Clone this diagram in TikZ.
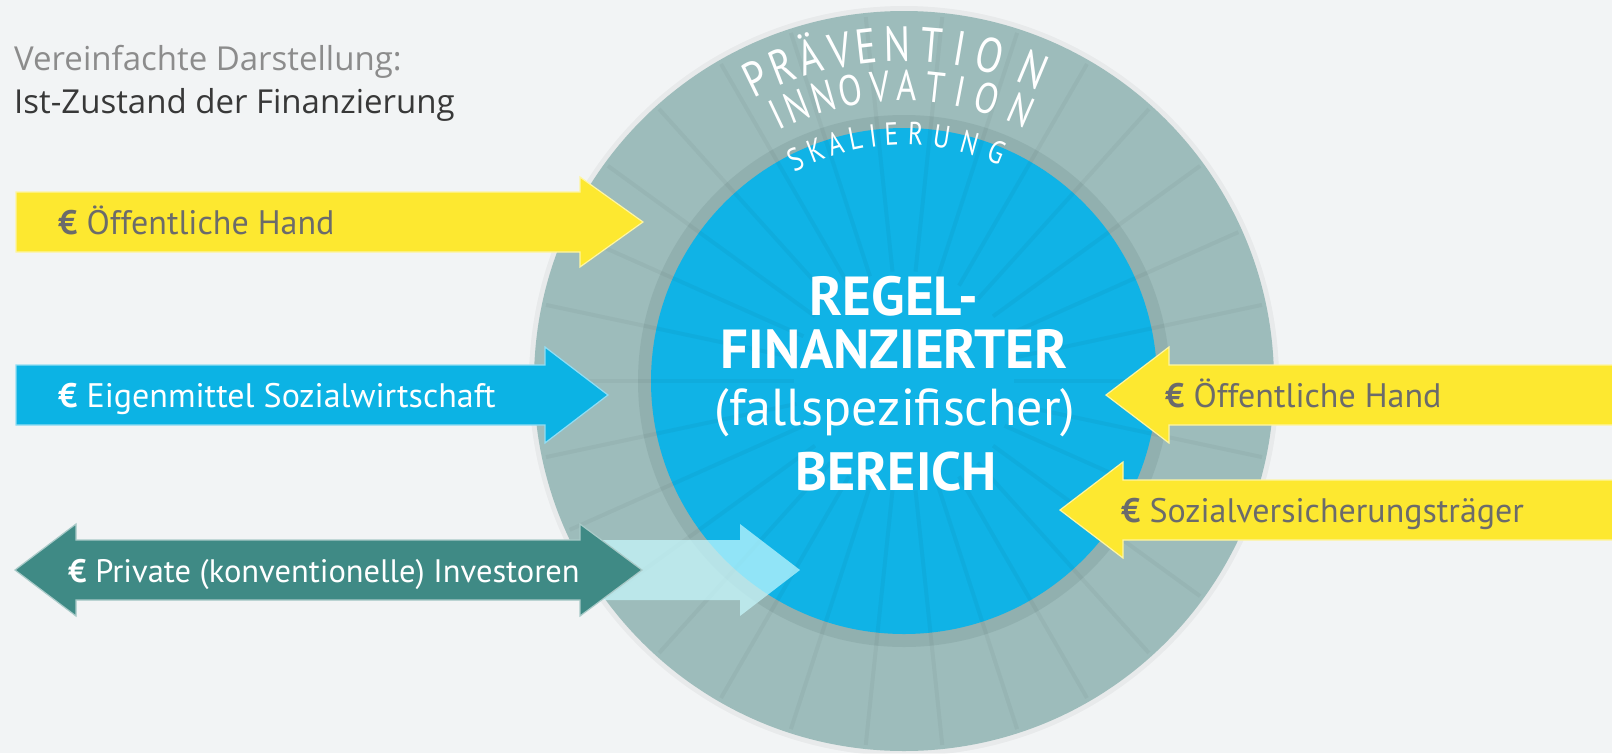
\documentclass[tikz,border=0pt]{standalone}
\usepackage{fontspec}
\setmainfont{PT Sans}
\newfontfamily\titlefont{Open Sans}
\newfontfamily\arcfont{PT Sans}[FakeStretch=0.8]
\usepackage{tikz}

\definecolor{paper}{HTML}{F2F4F5}
\definecolor{ringgrey}{HTML}{9DBCBB}
\definecolor{ringdark}{HTML}{91B0AF}
\definecolor{coreblue}{HTML}{10B3E6}
\definecolor{fundyellow}{HTML}{FDE830}
\definecolor{fundblue}{HTML}{0CB3E4}
\definecolor{fundteal}{HTML}{3F8A85}
\definecolor{fundlight}{HTML}{C8FAFF}
\definecolor{labelgrey}{HTML}{6B6B6B}

\begin{document}
\begin{tikzpicture}[x=1pt, y=-1pt,
	flow/.style = {line width=1.2pt, line join=miter},
	label/.style = {anchor=base west, inner sep=0pt, font=\fontsize{34}{40}\selectfont},
	core/.style = {anchor=base, inner sep=0pt, text=white},
	arcletter/.style = {anchor=base, inner sep=0pt, text=white},
	spoke/.style = {line width=4pt, black, opacity=0.035}]
	\fill[paper] (0,0) rectangle (1612,753);
	\useasboundingbox (0,0) rectangle (1612,753);

	% title
	\node[anchor=base west, inner sep=0pt, font=\titlefont\fontsize{33}{38}\selectfont, text=black!45] (title1) at (14,70) {Vereinfachte Darstellung:};
	\node[anchor=base west, inner sep=0pt, font=\titlefont\fontsize{33}{38}\selectfont, text=black!78] (title2) at (14,113) {Ist-Zustand der Finanzierung};

	% circle
	\coordinate (c) at (904,381);
	\fill[black, opacity=0.04] (c) circle (375pt);
	\fill[ringgrey] (c) circle (370pt);
	\fill[ringdark] (c) circle (266pt);
	\fill[coreblue] (c) circle (253pt);
	\foreach \a in {0,12,...,348}
		\draw[spoke] ([shift={(\a:110pt)}]c) -- ([shift={(\a:366pt)}]c);

	\foreach \l/\ang [count=\i] in {P/116,R/111.1,Ä/106.2,V/101,E/96.4,N/91.1,T/85.3,I/80.4,O/75.2,N/67.4} 
		\node[arcletter, font=\arcfont\fontsize{49}{49}\selectfont, rotate=\ang-90] (pr\i) at ([shift={(\ang:320pt)}]c) {\l};
	\foreach \l/\ang [count=\i] in {I/115.5,N/111.3,N/105.9,O/100.4,V/94.7,A/89.4,T/83.9,I/79.1,O/73.6,N/66.6}
		\node[arcletter, font=\arcfont\fontsize{43}{43}\selectfont, rotate=\ang-90] (in\i) at ([shift={(\ang:280pt)}]c) {\l};
	\foreach \l/\ang [count=\i] in {S/116.1,K/111,A/106.1,L/101.4,I/97.2,E/92.9,R/87.3,U/81.2,N/74.6,G/67.8}
		\node[arcletter, font=\arcfont\fontsize{32}{32}\selectfont, rotate=\ang-90] (sk\i) at ([shift={(\ang:236pt)}]c) {\l};

	\node[core, font=\bfseries\fontsize{55}{55}\selectfont] (regel) at (894,315) {REGEL-};
	\node[core, font=\bfseries\fontsize{55}{55}\selectfont] (finanz) at (894,368) {FINANZIERTER};
	\node[core, font=\fontsize{52}{52}\selectfont] (fall) at (895,425) {(fallspezifischer)};
	\node[core, font=\bfseries\fontsize{54}{54}\selectfont] (bereich) at (896,490) {BEREICH};

	% arrows left
	\draw[flow, fill=fundyellow, draw=fundyellow!45!white] (16,192) -- (580,192) -- (580,177) -- (643,222) -- (580,267) -- (580,252) -- (16,252) -- cycle;
	\draw[flow, fill=fundblue, draw=fundblue!45!white] (16,365) -- (545,365) -- (545,347) -- (608,395) -- (545,443) -- (545,425) -- (16,425) -- cycle;
	\fill[fundlight, opacity=0.7] (575,540) -- (740,540) -- (740,524) -- (800,570) -- (740,616) -- (740,600) -- (575,600) -- cycle;
	\draw[flow, fill=fundteal, draw=fundteal!45!white] (15,570) -- (76,524) -- (76,540) -- (580,540) -- (580,524) -- (642,570) -- (580,616) -- (580,600) -- (76,600) -- (76,616) -- cycle;

	% arrows right
	\draw[flow, fill=fundyellow, draw=fundyellow!45!white] (1620,365) -- (1169,365) -- (1169,347) -- (1106,395) -- (1169,443) -- (1169,425) -- (1620,425) -- cycle;
	\draw[flow, fill=fundyellow, draw=fundyellow!45!white] (1620,480) -- (1123,480) -- (1123,462) -- (1060,510) -- (1123,558) -- (1123,540) -- (1620,540) -- cycle;

	\node[label, text=labelgrey] (hand1) at (58,234) {\textbf{€} Öffentliche Hand};
	\node[label, text=white] (eigen) at (58,407) {\textbf{€} Eigenmittel Sozialwirtschaft};
	\node[label, text=white, font=\fontsize{32.5}{38}\selectfont] (privat) at (68,582) {\textbf{€} Private (konventionelle) Investoren};
	\node[label, text=labelgrey] (hand2) at (1165,407) {\textbf{€} Öffentliche Hand};
	\node[label, text=labelgrey] (sozial) at (1121,522) {\textbf{€} Sozialversicherungsträger};
\end{tikzpicture}
\end{document}
